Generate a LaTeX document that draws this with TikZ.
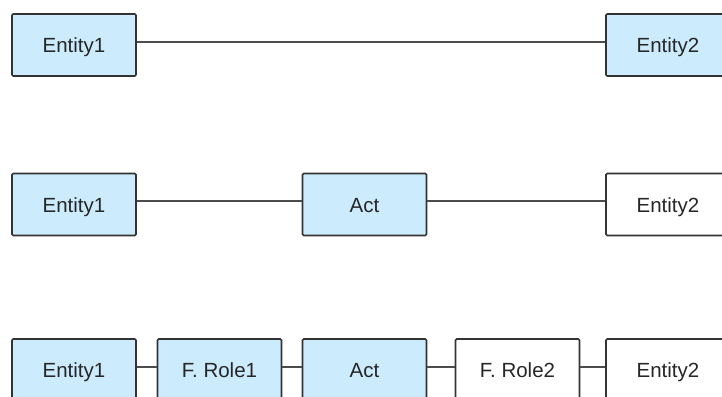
\documentclass[tikz,border=0pt]{standalone}
\usepackage{fontspec}
\setmainfont{Liberation Sans}
\definecolor{boxblue}{HTML}{CCEBFC}
\begin{document}
\begin{tikzpicture}[x=1pt,y=-1pt,
  box/.style={draw=black!80, line width=1.6pt, rounded corners=1.2pt,
    minimum width=124pt, minimum height=62pt, inner sep=0pt,
    text height=15pt, text depth=0pt,
    font=\fontsize{20.5}{24}\selectfont, text=black!85},
  blue/.style={box, fill=boxblue},
  plain/.style={box, fill=white},
  link/.style={draw=black!70, line width=1.4pt}]
\useasboundingbox (0,0) rectangle (722,396);
\clip (0,0) rectangle (722,396);
% first row: two entities
\node[blue] (a1) at (74,45) {Entity1};
\node[blue] (a2) at (668,45) {Entity2};
\draw[link] ([yshift=3pt]a1.east) -- ([yshift=3pt]a2.west);
% second row: entities joined through an act
\node[blue] (b1) at (74,204.5) {Entity1};
\node[blue] (b2) at (364.5,204.5) {Act};
\node[plain] (b3) at (668,204.5) {Entity2};
\draw[link] ([yshift=3.5pt]b1.east) -- ([yshift=3.5pt]b2.west);
\draw[link] ([yshift=3.5pt]b2.east) -- ([yshift=3.5pt]b3.west);
% third row: roles on both sides of the act
\node[blue] (c1) at (74,370) {Entity1};
\node[blue] (c2) at (219.5,370) {F. Role1};
\node[blue] (c3) at (364.5,370) {Act};
\node[plain] (c4) at (517.5,370) {F. Role2};
\node[plain] (c5) at (668,370) {Entity2};
\foreach \u/\v in {c1/c2,c2/c3,c3/c4,c4/c5}
  \draw[link] ([yshift=3pt]\u.east) -- ([yshift=3pt]\v.west);
\end{tikzpicture}
\end{document}
